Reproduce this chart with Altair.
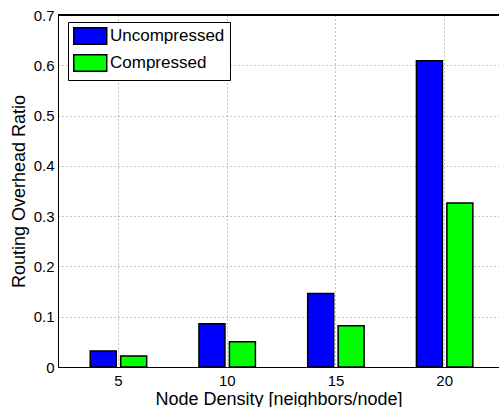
import altair as alt
import pandas as pd

nodes = [5, 10, 15, 20]
uncompressed = [0.032, 0.086, 0.146, 0.609]
compressed = [0.022, 0.050, 0.082, 0.326]
series_names = ["Uncompressed", "Compressed"]
y_ticks = [0, 0.1, 0.2, 0.3, 0.4, 0.5, 0.6, 0.7]

rows = []
for n, u, c in zip(nodes, uncompressed, compressed):
    rows.append({"node": n, "series": series_names[0], "value": u, "order": 0})
    rows.append({"node": n, "series": series_names[1], "value": c, "order": 1})
df = pd.DataFrame(rows)

FONT = "Liberation Sans"
xscale = alt.Scale(domain=[2.47, 22.29], nice=False, zero=False)

bars = alt.Chart(df).transform_calculate(
    xpos="datum.node + (datum.order == 0 ? -0.68 : 0.72)"
).mark_bar(width=26, stroke="black", strokeWidth=1.5).encode(
    x=alt.X("xpos:Q", scale=xscale,
            axis=alt.Axis(values=nodes, title="Node Density [neighbors/node]",
                          labelPadding=6, titlePadding=2, titleFontSize=18)),
    y=alt.Y("value:Q", scale=alt.Scale(domain=[0, 0.7], nice=False),
            axis=alt.Axis(values=y_ticks, title="Routing Overhead Ratio",
                          labelExpr="datum.value == 0 ? '0' : format(datum.value, '.1f')",
                          labelPadding=4, titlePadding=5, titleFontSize=18)),
    color=alt.Color("series:N",
                    scale=alt.Scale(domain=series_names, range=["#0000ff", "#00ff00"]),
                    legend=alt.Legend(title=None, orient="none", legendX=10, legendY=7,
                                      symbolType="M-1,-1H3V1H-1Z", symbolSize=272,
                                      symbolStrokeColor="black", symbolStrokeWidth=1.5,
                                      labelFontSize=17, labelFont=FONT, labelColor="black",
                                      strokeColor="black", fillColor="white",
                                      padding=5, rowPadding=3, labelOffset=19)),
)

border = alt.Chart(df).mark_rule(color="black", strokeWidth=1).encode(
    x=alt.value(0), x2=alt.value(441), y=alt.value(0)
)

chart = alt.layer(bars, border).properties(
    width=441, height=352,
    autosize=alt.AutoSizeParams(type="none"),
    padding={"left": 58, "top": 15, "right": 0, "bottom": 40},
).configure_view(stroke=None).configure(background="white").configure_axis(
    grid=True, gridDash=[1, 3], gridColor="#888888", gridOpacity=1,
    tickSize=0, labelFontSize=15, titleFontWeight="normal",
    labelFont=FONT, titleFont=FONT, domainColor="black", domainWidth=1,
    labelColor="black", titleColor="black",
)

chart.save("out.html", embed_options={"renderer": "svg", "actions": False})
